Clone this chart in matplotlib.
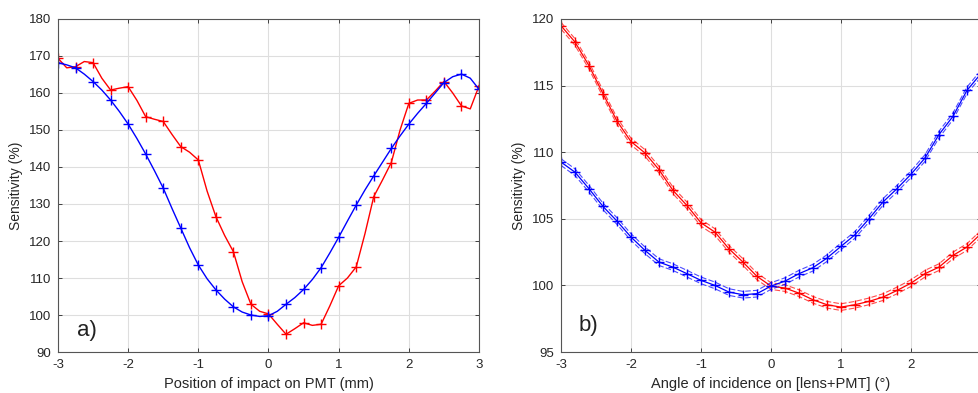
import numpy as np
import matplotlib
matplotlib.use("Agg")
import matplotlib.pyplot as plt

plt.rcParams['font.family'] = ['Liberation Sans', 'DejaVu Sans']
plt.rcParams['axes.unicode_minus'] = False

# panel a) position of impact, line sampled every 0.125 mm, markers every 0.25 mm
pos_x = np.arange(-3, 3.0001, 0.125)
pos_red = [169.4, 166.8, 167.1, 168.5, 168.2, 164.0, 160.8, 161.3, 161.7, 158.0,
           153.6, 152.9, 152.3, 148.8, 145.5, 144.0, 141.9, 133.5, 126.6, 121.5,
           117.1, 109.0, 102.9, 101.0, 100.3, 97.5, 94.8, 96.3, 97.9, 97.2,
           97.5, 102.5, 107.9, 110.0, 113.0, 122.0, 132.0, 136.5, 141.2, 150.0,
           157.2, 158.1, 158.1, 160.5, 163.1, 160.0, 156.5, 155.7, 161.9]
pos_blue = [168.2, 167.6, 166.8, 165.1, 163.1, 160.8, 158.1, 155.0, 151.6, 147.7,
            143.5, 139.0, 134.3, 128.8, 123.5, 118.2, 113.5, 109.8, 106.8, 104.3,
            102.2, 100.8, 100.0, 99.6, 99.8, 101.0, 102.9, 104.7, 106.9, 109.6,
            112.8, 116.8, 121.0, 125.4, 129.7, 133.8, 137.6, 141.3, 145.0, 148.4,
            151.6, 154.5, 157.2, 160.0, 162.8, 164.4, 165.1, 164.0, 161.0]

# panel b) angle of incidence, every 0.2 deg
ang_x = np.arange(-3, 3.0001, 0.2)
ang_red = [119.5, 118.27, 116.5, 114.4, 112.34, 110.8, 109.94, 108.69, 107.13, 106.0,
           104.7, 104.0, 102.75, 101.75, 100.68, 99.95, 99.8, 99.42, 98.92, 98.55,
           98.37, 98.55, 98.8, 99.12, 99.62, 100.17, 100.88, 101.37, 102.25, 102.88,
           103.88]
ang_blue = [109.26, 108.5, 107.26, 105.93, 104.83, 103.63, 102.63, 101.75, 101.37, 100.88,
            100.38, 100.0, 99.5, 99.3, 99.38, 99.95, 100.32, 100.88, 101.33, 102.05,
            102.93, 103.8, 105.0, 106.26, 107.26, 108.34, 109.56, 111.32, 112.69, 114.64,
            115.9]
band = 0.25

fig = plt.figure(figsize=(9.79, 3.93), dpi=100)
ax1 = fig.add_axes([0.0592, 0.1043, 0.4301, 0.8474])
ax2 = fig.add_axes([0.5730, 0.1043, 0.4290, 0.8474])

def style(ax):
    ax.grid(True, color='#dedede', linewidth=0.8)
    ax.set_axisbelow(True)
    ax.tick_params(direction='in', top=True, right=True, labelsize=9.5,
                   colors='#262626', length=3, width=0.6, pad=5)
    for s in ax.spines.values():
        s.set_color('#555555')
        s.set_linewidth(0.8)

ax1.plot(pos_x, pos_red, color='red', lw=1.0, marker='+', ms=7, mew=1.0, markevery=2)
ax1.plot(pos_x, pos_blue, color='blue', lw=1.0, marker='+', ms=7, mew=1.0, markevery=2)
ax1.set_xlim(-3, 3)
ax1.set_ylim(90, 180)
ax1.set_xticks(range(-3, 4))
ax1.set_yticks(range(90, 181, 10))
ax1.set_xlabel('Position of impact on PMT (mm)', fontsize=10.5, color='#262626')
ax1.set_ylabel('Sensitivity (%)', fontsize=10, color='#262626')
ax1.text(-2.73, 94.2, 'a)', fontsize=16, color='#222222')
style(ax1)

for y, c in [(ang_red, 'red'), (ang_blue, 'blue')]:
    y = np.array(y)
    ax2.plot(ang_x, y, color=c, lw=0.9, marker='+', ms=7, mew=1.0)
    ax2.plot(ang_x, y + band, color=c, lw=0.8, ls='--', alpha=0.7, dashes=(5, 2))
    ax2.plot(ang_x, y - band, color=c, lw=0.8, ls='--', alpha=0.7, dashes=(5, 2))
ax2.set_xlim(-3, 3)
ax2.set_ylim(95, 120)
ax2.set_xticks(range(-3, 4))
ax2.set_yticks(range(95, 121, 5))
ax2.set_xlabel('Angle of incidence on [lens+PMT] (°)', fontsize=10.5, color='#262626')
ax2.set_ylabel('Sensitivity (%)', fontsize=10, color='#262626')
ax2.text(-2.75, 96.6, 'b)', fontsize=16, color='#222222')
style(ax2)

fig.savefig('out.png', dpi=100)
